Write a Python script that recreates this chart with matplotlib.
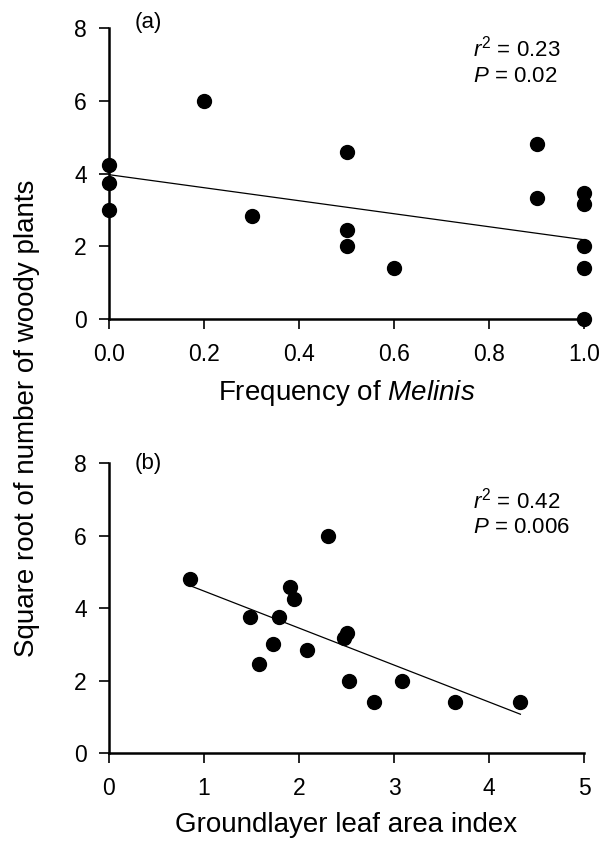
import matplotlib
matplotlib.use("Agg")
import matplotlib.pyplot as plt
import numpy as np

# panel (a): frequency of Melinis vs sqrt(woody plants)
freq = [0.0, 0.0, 0.0, 0.2, 0.3, 0.5, 0.5, 0.5, 0.6, 0.9, 0.9, 1.0, 1.0, 1.0, 1.0, 1.0]
woody_a = [4.24, 3.74, 3.0, 6.0, 2.83, 4.58, 2.45, 2.0, 1.41, 4.8, 3.32, 3.46, 3.16, 2.0, 1.41, 0.0]
fit_a_x = [0.0, 1.0]
fit_a_y = [3.97, 2.18]

# panel (b): groundlayer LAI vs sqrt(woody plants)
lai = [0.85, 1.48, 1.58, 1.73, 1.79, 1.90, 1.95, 2.08, 2.30, 2.47, 2.50, 2.53, 2.79, 3.08, 3.64, 4.33]
woody_b = [4.8, 3.74, 2.45, 3.0, 3.74, 4.58, 4.24, 2.83, 6.0, 3.16, 3.32, 2.0, 1.41, 2.0, 1.41, 1.41]
fit_b_x = [0.85, 4.33]
fit_b_y = [4.62, 1.07]

plt.rcParams['font.family'] = ['Liberation Sans', 'DejaVu Sans']
plt.rcParams['mathtext.fontset'] = 'custom'
plt.rcParams['mathtext.rm'] = 'Liberation Sans'
plt.rcParams['mathtext.it'] = 'Liberation Sans:italic'

fig = plt.figure(figsize=(6.13, 8.48), dpi=100)
ax1 = fig.add_axes([0.1778, 0.6238, 0.775, 0.343])
ax2 = fig.add_axes([0.1778, 0.112, 0.775, 0.342])

def style(ax):
	for s in ["top", "right"]:
		ax.spines[s].set_visible(False)
	for s in ["left", "bottom"]:
		ax.spines[s].set_linewidth(1.8)
	ax.tick_params(direction="out", length=7, width=1.2, labelsize=16.5)
	ax.tick_params(axis="x", pad=10)
	ax.tick_params(axis="y", pad=9)
	ax.set_ylim(0, 8)
	ax.set_yticks([0, 2, 4, 6, 8])

style(ax1)
ax1.plot(fit_a_x, fit_a_y, color="black", lw=0.9)
ax1.plot(freq, woody_a, "o", color="black", ms=10, clip_on=False, zorder=3)
ax1.set_xlim(0, 1.0)
ax1.set_xticks([0.0, 0.2, 0.4, 0.6, 0.8, 1.0])
ax1.set_xticklabels(["0.0", "0.2", "0.4", "0.6", "0.8", "1.0"])
ax1.set_xlabel("Frequency of $\\it{Melinis}$", fontsize=20, labelpad=9)
ax1.text(0.055, 1.02, "(a)", transform=ax1.transAxes, fontsize=16, va="center")
ax1.text(0.766, 0.931, "$\\it{r}^{2}$ = 0.23", transform=ax1.transAxes, fontsize=16, va="center")
ax1.text(0.766, 0.835, "$\\it{P}$ = 0.02", transform=ax1.transAxes, fontsize=16, va="center")

style(ax2)
ax2.plot(fit_b_x, fit_b_y, color="black", lw=0.9)
ax2.plot(lai, woody_b, "o", color="black", ms=10, clip_on=False, zorder=3)
ax2.set_xlim(0, 5)
ax2.set_xticks([0, 1, 2, 3, 4, 5])
ax2.set_xlabel("Groundlayer leaf area index", fontsize=20, labelpad=9)
ax2.text(0.055, 1.0, "(b)", transform=ax2.transAxes, fontsize=16, va="center")
ax2.text(0.766, 0.872, "$\\it{r}^{2}$ = 0.42", transform=ax2.transAxes, fontsize=16, va="center")
ax2.text(0.766, 0.776, "$\\it{P}$ = 0.006", transform=ax2.transAxes, fontsize=16, va="center")

fig.text(0.044, 0.507, "Square root of number of woody plants", rotation=90,
	fontsize=20, ha="center", va="center")

plt.savefig("out.png", dpi=100)
